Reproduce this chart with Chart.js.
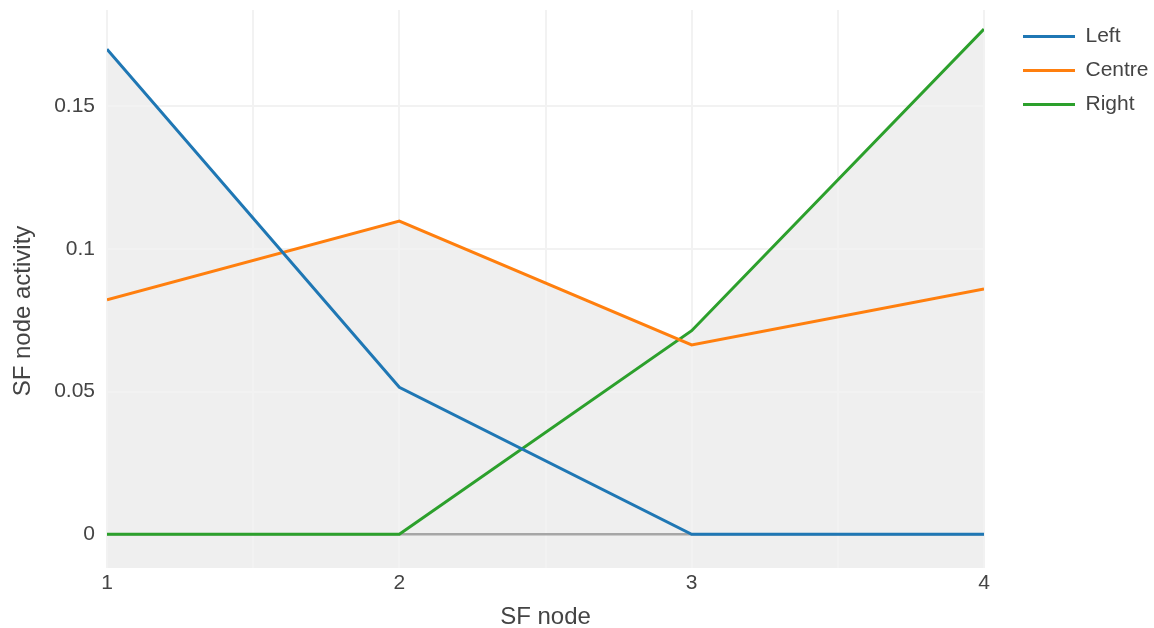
<!DOCTYPE html>
<html>
<head>
<meta charset="utf-8">
<script src="https://cdn.jsdelivr.net/npm/chart.js@4.4.1/dist/chart.umd.min.js"></script>
<style>
  html, body { margin: 0; padding: 0; background: #fff; }
  #wrap { width: 1154px; height: 628px; position: relative; }
</style>
</head>
<body>
<div id="wrap"><canvas id="activityChart"></canvas></div>
<script>
const nodes = [1, 2, 3, 4];
const seriesNames = ['Left', 'Centre', 'Right'];
const leftValues = [0.1699, 0.0515, 0, 0];
const centreValues = [0.0821, 0.1097, 0.0663, 0.0859];
const rightValues = [0, 0, 0.0713, 0.1769];
const yTicks = [0, 0.05, 0.1, 0.15];

const colors = ['#1f77b4', '#ff7f0e', '#2ca02c'];
const textColor = '#444';
const fontFamily = '"Liberation Sans", Arial, sans-serif';
const yTitle = 'SF node activity';

function toPoints(values) {
  return values.map((v, i) => ({ x: nodes[i], y: v }));
}

const datasets = [leftValues, centreValues, rightValues].map((values, i) => ({
  label: seriesNames[i],
  data: toPoints(values),
  borderColor: colors[i],
  backgroundColor: colors[i],
  borderWidth: 3,
  pointRadius: 0,
  tension: 0,
  // every series fills down to the bottom with the same grey, so the union
  // of the fills is the area under the highest line
  fill: { target: 'start', above: '#efefef', below: '#efefef' }
}));

// y axis title, drawn a bit below the middle of the plot
const yTitlePlugin = {
  id: 'yTitle',
  afterDraw(chart) {
    const c = chart.ctx;
    c.save();
    c.translate(23, 311);
    c.rotate(-Math.PI / 2);
    c.textAlign = 'center';
    c.textBaseline = 'middle';
    c.fillStyle = textColor;
    c.font = '24px ' + fontFamily;
    c.fillText(yTitle, 0, 0);
    c.restore();
  }
};

// push the legend a little away from the plot
const legendShift = {
  id: 'legendShift',
  afterLayout(chart) {
    const lg = chart.legend;
    lg.left += 26;
    lg.right += 26;
    lg.top += 3;
    lg.bottom += 3;
  }
};

const ctx = document.getElementById('activityChart').getContext('2d');

const activityChart = new Chart(ctx, {
  type: 'line',
  data: { datasets: datasets },
  plugins: [yTitlePlugin, legendShift],
  options: {
    responsive: true,
    maintainAspectRatio: false,
    animation: false,
    layout: { padding: { top: 10, right: 0, bottom: 0, left: 0 } },
    plugins: {
      filler: { drawTime: 'beforeDraw' },
      tooltip: { enabled: false },
      legend: {
        position: 'right',
        align: 'start',
        labels: {
          usePointStyle: true,
          pointStyle: 'line',
          pointStyleWidth: 52,
          padding: 13,
          color: textColor,
          font: { family: fontFamily, size: 21 },
          generateLabels: chart => chart.data.datasets.map((ds, i) => ({
            text: ds.label,
            strokeStyle: ds.borderColor,
            fillStyle: ds.borderColor,
            lineWidth: 3,
            pointStyle: 'line',
            hidden: false,
            datasetIndex: i,
            fontColor: textColor
          }))
        }
      }
    },
    scales: {
      x: {
        type: 'linear',
        min: 1,
        max: 4,
        border: { display: false },
        grid: { color: '#f2f2f2', lineWidth: 2, drawTicks: false },
        ticks: {
          stepSize: 0.5,
          autoSkip: false,
          padding: 3,
          color: textColor,
          font: { family: fontFamily, size: 21 },
          callback: v => Number.isInteger(v) ? String(v) : ''
        },
        title: {
          display: true,
          text: 'SF node',
          color: textColor,
          font: { family: fontFamily, size: 24 },
          padding: { top: 0, bottom: -4 }
        },
        afterFit: scale => {
          scale.height = 60;
          scale.paddingRight = 170;
        }
      },
      y: {
        type: 'linear',
        min: -0.0118,
        max: 0.1836,
        border: { display: false },
        grid: {
          drawTicks: false,
          color: c => (c.tick && c.tick.value === 0) ? '#a6a6a6' : '#f2f2f2',
          lineWidth: c => (c.tick && c.tick.value === 0) ? 2.5 : 2
        },
        afterBuildTicks: scale => {
          scale.ticks = yTicks.map(v => ({ value: v }));
        },
        ticks: {
          padding: 12,
          color: textColor,
          font: { family: fontFamily, size: 21 },
          callback: v => String(v)
        },
        afterFit: scale => {
          scale.width = 107;
          scale.paddingTop = 0;
          scale.paddingBottom = 0;
        }
      }
    }
  }
});
</script>
</body>
</html>
